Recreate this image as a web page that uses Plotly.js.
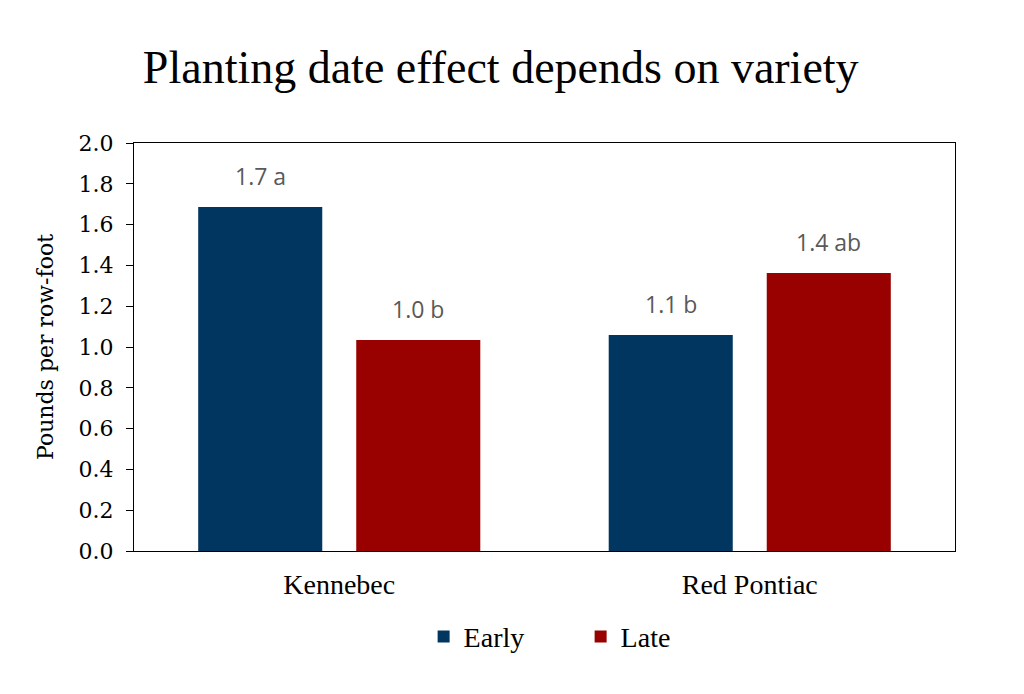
<!DOCTYPE html>
<html>
<head>
<meta charset="utf-8">
<script src="https://cdn.plot.ly/plotly-3.0.1.min.js"></script>
<style>html,body{margin:0;padding:0;background:#fff;}#chart{width:1024px;height:694px;}</style>
</head>
<body>
<div id="chart"></div>
<script>
const categories = ["Kennebec", "Red Pontiac"];
const seriesNames = ["Early", "Late"];
const earlyValues = [1.686, 1.059];
const lateValues = [1.034, 1.363];
const earlyLabels = ["1.7 a", "1.1 b"];
const lateLabels = ["1.0 b", "1.4 ab"];
const yTickVals = [0, 0.2, 0.4, 0.6, 0.8, 1.0, 1.2, 1.4, 1.6, 1.8, 2.0];
const yTickText = ["0.0", "0.2", "0.4", "0.6", "0.8", "1.0", "1.2", "1.4", "1.6", "1.8", "2.0"];

const colors = ["#003660", "#990000"];

const traces = [
  {type: "bar", name: seriesNames[0], x: categories, y: earlyValues, marker: {color: colors[0]}, hoverinfo: "none"},
  {type: "bar", name: seriesNames[1], x: categories, y: lateValues, marker: {color: colors[1]}, hoverinfo: "none"}
];

const annFont = {family: "'Open Sans', 'Noto Sans', sans-serif", size: 23, color: "#595959"};
const annotations = [];
categories.forEach((c, i) => {
  annotations.push({x: c, y: earlyValues[i], xref: "x", yref: "y", text: earlyLabels[i], showarrow: false, xshift: -79, yanchor: "bottom", yshift: 13, font: annFont});
  annotations.push({x: c, y: lateValues[i], xref: "x", yref: "y", text: lateLabels[i], showarrow: false, xshift: 79, yanchor: "bottom", yshift: 13, font: annFont});
});

const serifA = "'Liberation Serif', serif";
const serifB = "'DejaVu Serif', serif";

const layout = {
  width: 1024, height: 694,
  margin: {l: 134, r: 69, t: 143, b: 143},
  paper_bgcolor: "#fff", plot_bgcolor: "#fff",
  title: {text: "Planting date effect depends on variety", x: 0.489, xanchor: "center", y: 0.903, yanchor: "middle",
    font: {family: serifA, size: 46, color: "#000"}},
  barmode: "group", bargap: 0.23, bargroupgap: 0.215,
  xaxis: {type: "category", showline: true, linecolor: "#000", linewidth: 1, mirror: true, ticks: "outside", ticklen: 8, tickcolor: "rgba(0,0,0,0)",
    tickfont: {family: serifA, size: 28, color: "#000"}, showgrid: false},
  yaxis: {range: [0, 2.0], tickvals: yTickVals, ticktext: yTickText, showline: true, linecolor: "#000", linewidth: 1, mirror: true,
    ticks: "outside", ticklen: 7, tickcolor: "#000", showgrid: false, zeroline: false, ticklabelstandoff: 8,
    tickfont: {family: serifB, size: 22, color: "#000"},
    title: {text: "Pounds per row-foot", font: {family: serifB, size: 22, color: "#000"}, standoff: 18}},
  legend: {orientation: "h", x: 0.544, xanchor: "center", y: -0.21, yanchor: "middle",
    font: {family: serifA, size: 28, color: "#000"}, itemwidth: 30, entrywidth: 112, traceorder: "normal"},
  annotations: annotations
};

Plotly.newPlot("chart", traces, layout, {displayModeBar: false, staticPlot: true});
</script>
</body>
</html>
